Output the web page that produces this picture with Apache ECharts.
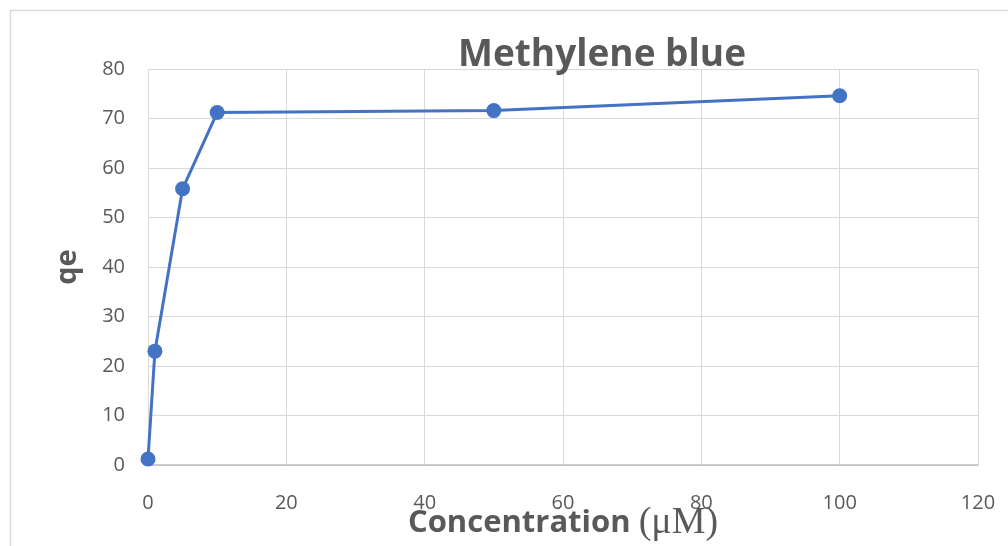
<!DOCTYPE html>
<html>
<head>
<meta charset="utf-8">
<script src="https://cdn.jsdelivr.net/npm/echarts@6/dist/echarts.min.js"></script>
<style>html,body{margin:0;padding:0;background:#fff;overflow:hidden}#c{width:1008px;height:546px}</style>
</head>
<body>
<div id="c"></div>
<script>
const concentration = [0, 1, 5, 10, 50, 100];
const qe = [1.2, 23, 55.8, 71.2, 71.6, 74.6];
const xTicks = [0, 20, 40, 60, 80, 100, 120];
const yTicks = [0, 10, 20, 30, 40, 50, 60, 70, 80];

const chart = echarts.init(document.getElementById('c'));
const font = '"Open Sans", "Noto Sans", sans-serif';
chart.setOption({
  animation: false,
  backgroundColor: '#ffffff',
  graphic: [{
    type: 'rect', left: 8, top: 8, silent: true,
    shape: { width: 1010, height: 550 },
    style: { fill: 'none', stroke: '#d9d9d9', lineWidth: 1.5 }
  }],
  title: {
    text: 'Methylene blue',
    left: 597, top: 32, textAlign: 'center',
    textStyle: { fontFamily: font, fontSize: 37, fontWeight: 'bold', color: '#595959' }
  },
  grid: { left: 148, right: 30, top: 69, bottom: 81, containLabel: false, outerBoundsMode: 'none' },
  xAxis: {
    type: 'value', min: 0, max: 120, interval: 20,
    name: '{a|Concentration }{b|(μM)}',
    nameLocation: 'middle', nameGap: 58, nameMoveOverlap: false,
    nameTextStyle: {
      verticalAlign: 'middle',
      rich: {
        a: { fontFamily: font, fontSize: 31, fontWeight: 'bold', color: '#595959' },
        b: { fontFamily: '"Liberation Serif", "DejaVu Serif", serif', fontSize: 38, color: '#595959' }
      }
    },
    axisLine: { show: true, lineStyle: { color: '#bfbfbf', width: 1.5 } },
    axisTick: { show: false },
    axisLabel: { fontFamily: font, fontSize: 20, color: '#595959', margin: 28,
      formatter: v => xTicks.includes(v) ? String(v) : '' },
    splitLine: { show: true, lineStyle: { color: '#d9d9d9', width: 1 } }
  },
  yAxis: {
    type: 'value', min: 0, max: 80, interval: 10,
    name: 'qe', nameLocation: 'middle', nameGap: 66, nameRotate: 90, nameMoveOverlap: false,
    nameTextStyle: { fontFamily: font, fontSize: 29, fontWeight: 'bold', color: '#595959' },
    axisLine: { show: false },
    axisTick: { show: false },
    axisLabel: { fontFamily: font, fontSize: 20, color: '#595959', margin: 23,
      formatter: v => yTicks.includes(v) ? String(v) : '' },
    splitLine: { show: true, lineStyle: { color: '#d9d9d9', width: 1 } }
  },
  series: [{
    type: 'line',
    data: concentration.map((c, i) => [c, qe[i]]),
    symbol: 'circle', symbolSize: 15,
    lineStyle: { color: '#4472c4', width: 3 },
    itemStyle: { color: '#4472c4' },
    clip: false
  }]
});
</script>
</body>
</html>
